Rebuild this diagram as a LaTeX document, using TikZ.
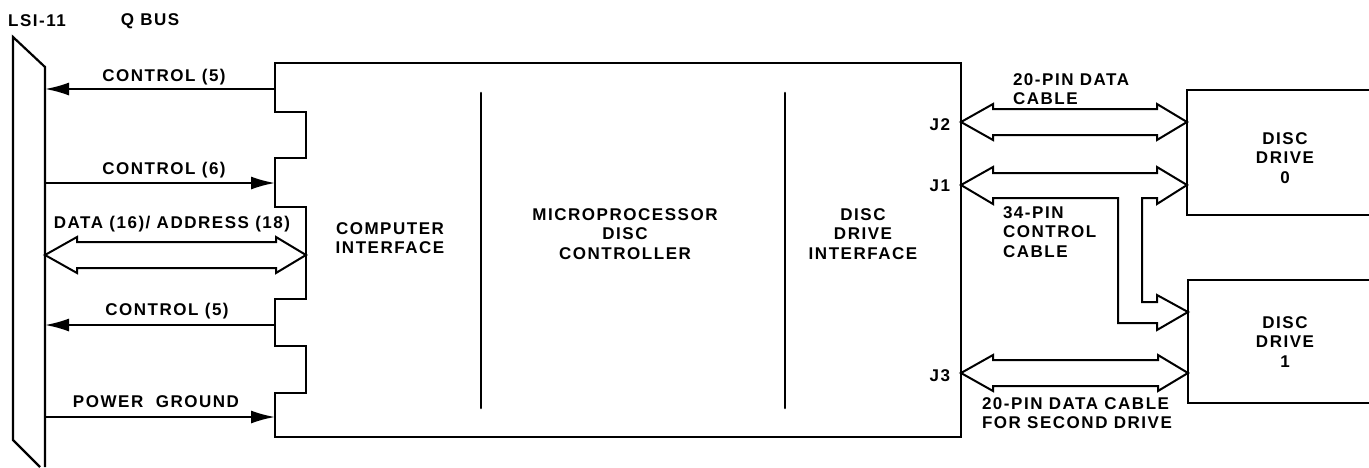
\documentclass[tikz,border=0pt]{standalone}
\usepackage{fontspec}
\setmainfont{Liberation Sans}[LetterSpace=9]
\usetikzlibrary{arrows.meta}
\newcommand{\fatdbl}[3]{% left tip x, right tip x, y
  \draw[cable] (#1,#3) -- ({#1+32},{#3-18}) -- ({#1+32},{#3-13}) -- ({#2-30},{#3-13}) -- ({#2-30},{#3-18}) -- (#2,#3)
   -- ({#2-30},{#3+18}) -- ({#2-30},{#3+13}) -- ({#1+32},{#3+13}) -- ({#1+32},{#3+18}) -- cycle;}
\begin{document}
\begin{tikzpicture}[x=1pt,y=-1pt,
  line width=2pt, line join=miter,
  lbl/.style={inner sep=0pt, font=\bfseries\fontsize{17}{19.5}\selectfont},
  cable/.style={draw=black, line width=2pt, line join=miter},
  sarrow/.style={draw, line width=2pt, -{Latex[length=24pt,width=13pt]}},
  outline/.style={draw, line width=2.2pt},
  divider/.style={draw, line width=2.6pt, line cap=round}]
\useasboundingbox (0,0) rectangle (1369,467);

% LSI-11 Q bus
\draw[outline] (45,467) -- (45,67) -- (13,37) -- (13,440) -- (40,467);
\coordinate (busA) at (45,89);
\coordinate (busB) at (45,183);
\coordinate (busD) at (45,255);
\coordinate (busC) at (45,325);
\coordinate (busE) at (45,417);

% main controller board outline with notches
\draw[outline] (961,63) -- (275,63) -- (275,112) -- (306,112) -- (306,158) -- (275,158)
  -- (275,207) -- (306,207) -- (306,299) -- (275,299) -- (275,346) -- (306,346)
  -- (306,393) -- (275,393) -- (275,437) -- (961,437) -- cycle;
\coordinate (boxA) at (275,89);
\coordinate (boxB) at (275,183);
\coordinate (boxD) at (306,255);
\coordinate (boxC) at (275,325);
\coordinate (boxE) at (275,417);

% dividers
\draw[divider] (481,93) -- (481,408);
\draw[divider] (785,93) -- (785,408);

% bus signals
\draw[sarrow] (boxA) -- (busA);
\draw[sarrow] (busB) -- (boxB);
\fatdbl{45}{306}{255}
\draw[sarrow] (boxC) -- (busC);
\draw[sarrow] (busE) -- (boxE);

% disc drives
\draw[outline] (1375,90) -- (1187,90) -- (1187,215) -- (1375,215);
\draw[outline] (1375,280) -- (1188,280) -- (1188,403) -- (1375,403);

% cables
\fatdbl{961}{1187}{122}
\fatdbl{961}{1188}{373}
\draw[cable] (961,185) -- (993,167) -- (993,173) -- (1157,173) -- (1157,167) -- (1187,185)
  -- (1157,204) -- (1157,198) -- (1142,198) -- (1142,302) -- (1157,302) -- (1157,295)
  -- (1188,312) -- (1157,330) -- (1157,323) -- (1118,323) -- (1118,198) -- (993,198)
  -- (993,204) -- cycle;

% labels
\node[lbl] (tlsi) at (37,21) {LSI-11};
\node[lbl] (tqbus) at (150,21) {Q BUS};
\node[lbl] (tc5a) at (164,77) {CONTROL (5)};
\node[lbl] (tc6) at (164,170) {CONTROL (6)};
\node[lbl] (tdata) at (172,224) {DATA (16)/ ADDRESS (18)};
\node[lbl] (tc5b) at (167,311) {CONTROL (5)};
\node[lbl] (tpwr) at (156,402) {POWER~~GROUND};
\node[lbl, align=center] (tci) at (390,238) {COMPUTER\\INTERFACE};
\node[lbl, align=center] (tmdc) at (625,234) {MICROPROCESSOR\\DISC\\CONTROLLER};
\node[lbl, align=center] (tddi) at (863,234) {DISC\\DRIVE\\INTERFACE};
\node[lbl, anchor=east] (tj2) at (951,125) {J2};
\node[lbl, anchor=east] (tj1) at (951,186) {J1};
\node[lbl, anchor=east] (tj3) at (951,376) {J3};
\node[lbl, align=left, anchor=west] (t20a) at (1012,89) {20-PIN DATA\\CABLE};
\node[lbl, align=left, anchor=west] (t34) at (1002,232) {34-PIN\\CONTROL\\CABLE};
\node[lbl, align=left, anchor=west] (t20b) at (981,413) {20-PIN DATA CABLE\\FOR SECOND DRIVE};
\node[lbl, align=center] (td0) at (1285,158) {DISC\\DRIVE\\0};
\node[lbl, align=center] (td1) at (1285,342) {DISC\\DRIVE\\1};
\end{tikzpicture}
\end{document}
